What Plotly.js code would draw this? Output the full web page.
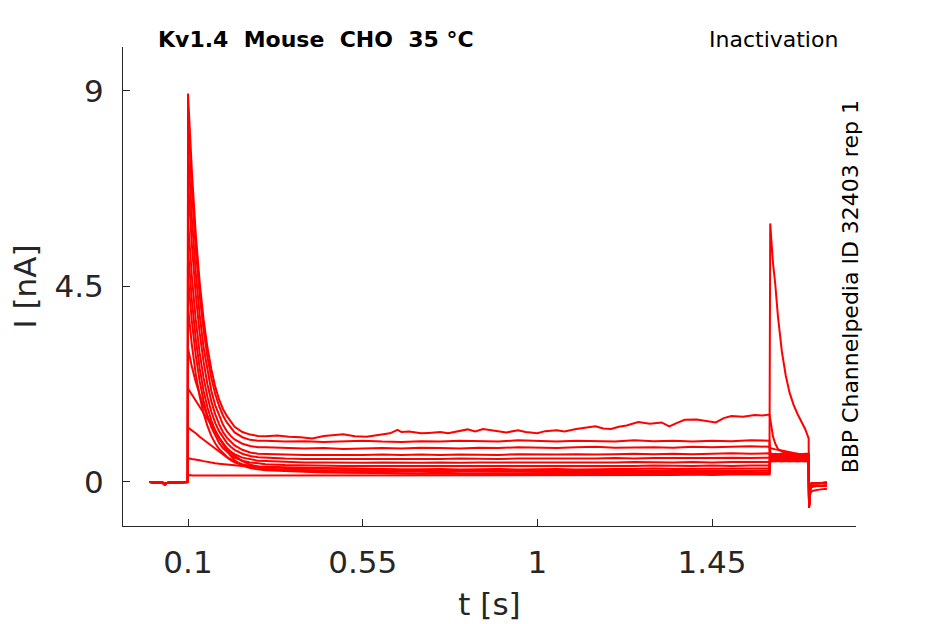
<!DOCTYPE html>
<html>
<head>
<meta charset="utf-8">
<script src="https://cdn.plot.ly/plotly-3.0.1.min.js"></script>
<style>html,body{margin:0;padding:0;background:#fff;}#chart{width:945px;height:624px;}</style>
</head>
<body>
<div id="chart"></div>
<script>
// ---- time bases (s) ----
const tBase  = [0, 0.02, 0.035, 0.04, 0.045, 0.06, 0.08, 0.0995];
const iBase  = [0, -0.01, -0.02, -0.06, -0.02, -0.01, 0, 0];

const tDecay = [0.1, 0.105, 0.11, 0.12, 0.13, 0.14, 0.15, 0.16, 0.17, 0.18, 0.19, 0.2, 0.21, 0.22, 0.24, 0.26, 0.28];

const tPlat  = [0.3, 0.35, 0.4, 0.45, 0.5, 0.55, 0.6, 0.65, 0.7, 0.75, 0.8, 0.85, 0.9, 0.95, 1.0, 1.05, 1.1, 1.15, 1.2, 1.25, 1.3, 1.35, 1.4, 1.45, 1.5, 1.55, 1.598];
const tPlatTop = [0.3, 0.33, 0.36, 0.39, 0.42, 0.45, 0.47, 0.5, 0.53, 0.56, 0.59, 0.62, 0.64, 0.65, 0.67, 0.7, 0.72, 0.75, 0.77, 0.8, 0.82, 0.84, 0.86, 0.89, 0.92, 0.95, 0.97, 1.0, 1.02, 1.05, 1.07, 1.1, 1.12, 1.15, 1.17, 1.19, 1.21, 1.23, 1.26, 1.29, 1.32, 1.34, 1.36, 1.38, 1.41, 1.44, 1.46, 1.48, 1.5, 1.53, 1.56, 1.58, 1.598];

const tTest  = [1.6, 1.603, 1.607, 1.613, 1.62, 1.63, 1.64, 1.65, 1.66, 1.67, 1.68, 1.69, 1.699];
const tTail  = [1.7, 1.7015, 1.703, 1.706, 1.71, 1.72, 1.73, 1.74, 1.746];

// ---- currents (nA), prepulse decay ----
const dec1  = [8.94, 8.0, 7.15, 5.7, 4.6, 3.75, 3.1, 2.6, 2.2, 1.9, 1.68, 1.52, 1.38, 1.27, 1.15, 1.09, 1.06];
const dec2  = [8.5, 7.55, 6.7, 5.35, 4.3, 3.5, 2.88, 2.4, 2.03, 1.75, 1.53, 1.37, 1.24, 1.14, 1.03, 0.97, 0.95];
const dec3  = [7.7, 6.85, 6.05, 4.8, 3.85, 3.1, 2.55, 2.1, 1.77, 1.52, 1.32, 1.17, 1.06, 0.98, 0.88, 0.83, 0.8];
const dec4  = [6.94, 6.15, 5.45, 4.3, 3.43, 2.77, 2.25, 1.86, 1.56, 1.33, 1.15, 1.02, 0.92, 0.84, 0.74, 0.68, 0.65];
const dec5  = [6.02, 5.34, 4.72, 3.73, 2.97, 2.4, 1.96, 1.62, 1.36, 1.17, 1.02, 0.9, 0.81, 0.74, 0.65, 0.6, 0.57];
const dec6  = [5.33, 4.72, 4.17, 3.29, 2.62, 2.1, 1.72, 1.42, 1.19, 1.02, 0.89, 0.78, 0.7, 0.64, 0.56, 0.52, 0.49];
const dec7  = [4.72, 4.18, 3.69, 2.91, 2.32, 1.87, 1.52, 1.26, 1.06, 0.9, 0.78, 0.69, 0.62, 0.56, 0.49, 0.45, 0.43];
const dec8  = [4.03, 3.57, 3.15, 2.48, 1.97, 1.58, 1.29, 1.06, 0.89, 0.76, 0.66, 0.58, 0.52, 0.47, 0.41, 0.37, 0.35];
const dec9  = [3.07, 2.85, 2.65, 2.3, 2.0, 1.74, 1.52, 1.32, 1.15, 1.0, 0.87, 0.76, 0.67, 0.6, 0.48, 0.4, 0.35];
const dec10 = [2.15, 2.08, 2.0, 1.85, 1.71, 1.58, 1.45, 1.33, 1.18, 1.02, 0.86, 0.72, 0.6, 0.5, 0.38, 0.32, 0.29];
const dec11 = [1.25, 1.22, 1.19, 1.12, 1.04, 0.97, 0.9, 0.83, 0.76, 0.69, 0.62, 0.56, 0.5, 0.45, 0.39, 0.35, 0.32];
const dec12 = [0.53, 0.54, 0.53, 0.52, 0.5, 0.48, 0.46, 0.45, 0.43, 0.42, 0.41, 0.4, 0.39, 0.38, 0.37, 0.36, 0.35];
const dec13 = [0.14, 0.16, 0.15, 0.15, 0.15, 0.15, 0.15, 0.15, 0.15, 0.15, 0.15, 0.15, 0.15, 0.15, 0.15, 0.15, 0.15];

// ---- prepulse plateau ----
const plat1  = [1.05, 1.07, 1.04, 1.03, 1.0, 1.06, 1.08, 1.1, 1.05, 1.04, 1.08, 1.12, 1.2, 1.15, 1.16, 1.12, 1.13, 1.15, 1.12, 1.18, 1.21, 1.16, 1.22, 1.18, 1.14, 1.19, 1.15, 1.12, 1.17, 1.19, 1.16, 1.22, 1.25, 1.28, 1.23, 1.22, 1.27, 1.3, 1.38, 1.34, 1.37, 1.28, 1.36, 1.43, 1.44, 1.4, 1.37, 1.47, 1.52, 1.5, 1.54, 1.53, 1.55];
const plat2  = [0.95, 0.93, 0.94, 0.92, 0.93, 0.95, 0.93, 0.92, 0.94, 0.93, 0.95, 0.94, 0.93, 0.96, 0.95, 0.93, 0.95, 0.94, 0.93, 0.96, 0.94, 0.95, 0.93, 0.95, 0.94, 0.96, 0.95];
const plat3  = [0.8, 0.78, 0.77, 0.78, 0.76, 0.77, 0.78, 0.77, 0.79, 0.78, 0.77, 0.79, 0.78, 0.8, 0.79, 0.78, 0.8, 0.81, 0.79, 0.8, 0.8, 0.79, 0.81, 0.8, 0.81, 0.82, 0.81];
const plat4  = [0.64, 0.63, 0.62, 0.62, 0.61, 0.62, 0.63, 0.62, 0.63, 0.62, 0.63, 0.63, 0.62, 0.64, 0.63, 0.63, 0.64, 0.63, 0.64, 0.65, 0.64, 0.65, 0.64, 0.65, 0.66, 0.65, 0.66];
const plat5  = [0.56, 0.54, 0.53, 0.53, 0.52, 0.53, 0.53, 0.52, 0.53, 0.53, 0.54, 0.53, 0.53, 0.54, 0.54, 0.53, 0.54, 0.54, 0.55, 0.54, 0.55, 0.55, 0.54, 0.55, 0.56, 0.55, 0.56];
const plat6  = [0.48, 0.46, 0.45, 0.45, 0.44, 0.44, 0.45, 0.44, 0.44, 0.45, 0.44, 0.45, 0.45, 0.44, 0.45, 0.45, 0.44, 0.45, 0.45, 0.46, 0.45, 0.45, 0.46, 0.45, 0.46, 0.46, 0.46];
const plat7  = [0.41, 0.39, 0.38, 0.38, 0.37, 0.37, 0.37, 0.36, 0.37, 0.37, 0.36, 0.37, 0.37, 0.36, 0.37, 0.37, 0.37, 0.36, 0.37, 0.37, 0.38, 0.37, 0.37, 0.38, 0.37, 0.38, 0.38];
const plat8  = [0.34, 0.32, 0.31, 0.31, 0.3, 0.3, 0.3, 0.29, 0.3, 0.3, 0.29, 0.3, 0.3, 0.29, 0.3, 0.3, 0.29, 0.3, 0.3, 0.3, 0.31, 0.3, 0.3, 0.31, 0.3, 0.31, 0.31];
const plat9  = [0.31, 0.28, 0.27, 0.26, 0.26, 0.25, 0.25, 0.25, 0.24, 0.25, 0.24, 0.24, 0.25, 0.24, 0.24, 0.25, 0.24, 0.24, 0.25, 0.24, 0.25, 0.25, 0.24, 0.25, 0.25, 0.25, 0.26];
const plat10 = [0.27, 0.25, 0.23, 0.22, 0.22, 0.21, 0.21, 0.2, 0.2, 0.21, 0.2, 0.2, 0.2, 0.2, 0.21, 0.2, 0.2, 0.2, 0.21, 0.2, 0.2, 0.21, 0.2, 0.21, 0.21, 0.21, 0.22];
const plat11 = [0.3, 0.27, 0.25, 0.23, 0.22, 0.21, 0.2, 0.2, 0.19, 0.19, 0.19, 0.18, 0.18, 0.18, 0.18, 0.18, 0.18, 0.17, 0.18, 0.18, 0.18, 0.17, 0.18, 0.18, 0.18, 0.18, 0.19];
const plat12 = [0.35, 0.34, 0.33, 0.32, 0.31, 0.3, 0.29, 0.28, 0.27, 0.26, 0.26, 0.25, 0.24, 0.24, 0.23, 0.23, 0.22, 0.22, 0.22, 0.21, 0.21, 0.21, 0.2, 0.2, 0.2, 0.2, 0.2];
const plat13 = [0.15, 0.15, 0.15, 0.15, 0.15, 0.15, 0.15, 0.15, 0.15, 0.15, 0.16, 0.15, 0.16, 0.16, 0.16, 0.16, 0.16, 0.16, 0.16, 0.16, 0.16, 0.16, 0.17, 0.16, 0.17, 0.17, 0.17];

// ---- test pulse ----
const test1  = [1.45, 1.25, 1.05, 0.88, 0.76, 0.7, 0.68, 0.66, 0.63, 0.6, 0.58, 0.56, 0.55];
const test2  = [0.66, 0.65, 0.64, 0.65, 0.64, 0.65, 0.64, 0.65, 0.64, 0.65, 0.64, 0.65, 0.65];
const test3  = [0.63, 0.62, 0.63, 0.62, 0.63, 0.62, 0.63, 0.62, 0.63, 0.62, 0.63, 0.62, 0.63];
const test4  = [0.6, 0.6, 0.61, 0.6, 0.6, 0.61, 0.6, 0.6, 0.61, 0.6, 0.6, 0.61, 0.6];
const test5  = [0.58, 0.58, 0.57, 0.58, 0.58, 0.57, 0.58, 0.58, 0.57, 0.58, 0.58, 0.57, 0.58];
const test6  = [0.56, 0.56, 0.55, 0.56, 0.56, 0.55, 0.56, 0.56, 0.55, 0.56, 0.56, 0.55, 0.56];
const test7  = [0.54, 0.54, 0.53, 0.54, 0.54, 0.53, 0.54, 0.54, 0.53, 0.54, 0.54, 0.53, 0.54];
const test8  = [0.52, 0.52, 0.51, 0.52, 0.52, 0.51, 0.52, 0.52, 0.51, 0.52, 0.52, 0.51, 0.52];
const test9  = [0.5, 0.5, 0.51, 0.5, 0.5, 0.51, 0.5, 0.5, 0.51, 0.5, 0.5, 0.51, 0.5];
const test10 = [0.49, 0.49, 0.48, 0.49, 0.49, 0.48, 0.49, 0.49, 0.48, 0.49, 0.49, 0.48, 0.49];
const test11 = [0.48, 0.47, 0.48, 0.47, 0.48, 0.47, 0.48, 0.47, 0.48, 0.47, 0.48, 0.47, 0.48];
const test12 = [0.78, 0.77, 0.76, 0.75, 0.74, 0.72, 0.7, 0.68, 0.66, 0.65, 0.64, 0.63, 0.62];
const test13 = [5.95, 5.5, 5.05, 4.55, 3.8, 3.0, 2.45, 2.05, 1.78, 1.57, 1.4, 1.22, 1.0];

// ---- tail ----
const tailDeep    = [-0.6, -0.42, -0.28, -0.22, -0.2, -0.18, -0.17, -0.16, -0.16];
const tailMid     = [-0.58, -0.35, -0.18, -0.12, -0.1, -0.09, -0.09, -0.08, -0.08];
const tailShallow = [-0.55, -0.25, -0.08, -0.04, -0.03, -0.03, -0.02, -0.02, -0.02];

const decs  = [dec1, dec2, dec3, dec4, dec5, dec6, dec7, dec8, dec9, dec10, dec11, dec12, dec13];
const plats = [plat1, plat2, plat3, plat4, plat5, plat6, plat7, plat8, plat9, plat10, plat11, plat12, plat13];
const tests = [test1, test2, test3, test4, test5, test6, test7, test8, test9, test10, test11, test12, test13];
const tails = [tailMid, tailShallow, tailShallow, tailShallow, tailShallow, tailShallow, tailShallow, tailShallow, tailMid, tailShallow, tailMid, tailMid, tailDeep];

const data = decs.map((d, k) => ({
  type: 'scatter', mode: 'lines', hoverinfo: 'skip',
  x: tBase.concat(tDecay, k === 0 ? tPlatTop : tPlat, tTest, tTail),
  y: iBase.concat(d, plats[k], tests[k], tails[k]),
  line: {color: '#ff0000', width: 2}
}));

const F = 'DejaVu Sans';
const axCol = '#262626';
const layout = {
  width: 945, height: 624,
  margin: {l: 123, r: 89, t: 47, b: 98},
  paper_bgcolor: '#ffffff', plot_bgcolor: '#ffffff',
  showlegend: false,
  font: {family: F, color: axCol},
  xaxis: {
    range: [-0.0675, 1.821],
    tickvals: [0.1, 0.55, 1, 1.45], ticktext: ['0.1', '0.55', '1', '1.45'],
    ticks: 'inside', ticklen: 7, tickwidth: 1, tickcolor: axCol,
    showline: true, linecolor: axCol, linewidth: 1, mirror: false,
    showgrid: false, zeroline: false,
    tickfont: {family: F, size: 31, color: axCol},
    ticklabelstandoff: 9,
    title: {text: 't [s]', font: {family: F, size: 31, color: axCol}, standoff: 14}
  },
  yaxis: {
    range: [-1.013, 10.01],
    tickvals: [0, 4.5, 9], ticktext: ['0', '4.5', '9'],
    ticks: 'inside', ticklen: 7, tickwidth: 1, tickcolor: axCol,
    showline: true, linecolor: axCol, linewidth: 1, mirror: false,
    showgrid: false, zeroline: false,
    tickfont: {family: F, size: 31, color: axCol},
    ticklabelstandoff: 12,
    title: {text: 'I [nA]', font: {family: F, size: 31, color: axCol}, standoff: 8}
  },
  annotations: [
    {xref: 'paper', yref: 'paper', x: 0.2634, y: 1.0166, xanchor: 'center', yanchor: 'middle',
     text: '<b>Kv1.4\u00a0\u00a0Mouse\u00a0\u00a0CHO\u00a0\u00a035\u00a0°C</b>', showarrow: false,
     font: {family: F, size: 22, color: '#000000'}},
    {xref: 'paper', yref: 'paper', x: 0.9784, y: 1.0166, xanchor: 'right', yanchor: 'middle',
     text: 'Inactivation', showarrow: false,
     font: {family: F, size: 22, color: '#000000'}},
    {xref: 'paper', yref: 'paper', x: 0.993, y: 0.5, xanchor: 'center', yanchor: 'middle',
     text: 'BBP Channelpedia ID 32403 rep 1', textangle: -90, showarrow: false,
     font: {family: F, size: 22, color: '#000000'}}
  ]
};

Plotly.newPlot('chart', data, layout, {staticPlot: true, displayModeBar: false});
</script>
</body>
</html>
